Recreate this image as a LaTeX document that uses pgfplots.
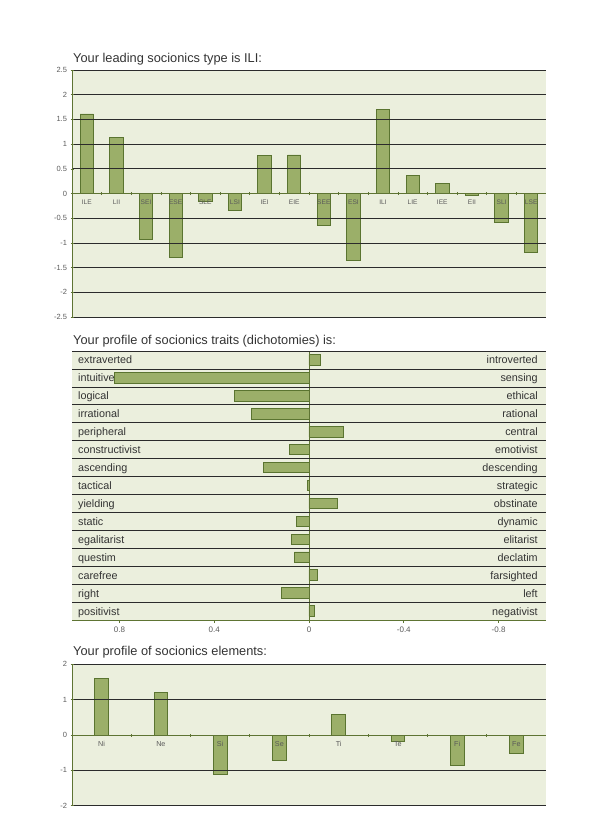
\documentclass[border=0pt]{standalone}
\usepackage{fontspec}
\setmainfont{Liberation Sans}
\usepackage{pgfplots}
\pgfplotsset{compat=1.18}
\usepackage{pgfplotstable}

\definecolor{bgc}{HTML}{EBEFDD}
\definecolor{barc}{HTML}{9BAF69}
\definecolor{bard}{HTML}{5A7430}
\definecolor{axc}{HTML}{5E7433}
\definecolor{gridc}{HTML}{2B2B2B}
\definecolor{framec}{HTML}{7A7A7A}
\definecolor{txt}{HTML}{333333}
\definecolor{tickc}{HTML}{5A5A5A}

% socionics types
\pgfplotstableread{
x val
0 1.61
1 1.14
2 -0.93
3 -1.30
4 -0.16
5 -0.34
6 0.77
7 0.78
8 -0.64
9 -1.35
10 1.71
11 0.37
12 0.20
13 -0.03
14 -0.58
15 -1.20
}\types

% dichotomies (positive = left trait)
\pgfplotstableread{
y val
14 -0.05
13 0.82
12 0.315
11 0.244
10 -0.144
9 0.082
8 0.194
7 0.008
6 -0.12
5 0.051
4 0.072
3 0.062
2 -0.035
1 0.117
0 -0.021
}\traits

% elements
\pgfplotstableread{
x val
0 1.59
1 1.21
2 -1.11
3 -0.71
4 0.58
5 -0.17
6 -0.87
7 -0.52
}\elements

\tikzset{
  rowlab/.style={font=\fontsize{10.8}{12}\selectfont, text=txt, inner sep=0pt,
    text height=8pt, text depth=0pt},
}

\pgfplotsset{
  common/.style={
    scale only axis,
    anchor=north west,
    axis background/.style={fill=bgc},
    axis on top,
    /pgf/number format/assume math mode=true,
    grid style={gridc, line width=0.7pt},
    tick align=outside,
    major tick length=3pt,
    tick style={axc, line width=0.6pt},
  },
  cats/.style={
    common,
    axis x line=middle, axis y line=left,
    axis line style={-, axc, line width=0.8pt},
    x axis line style={-}, y axis line style={-},
    hide obscured x ticks=false, hide obscured y ticks=false,
    ymajorgrids,
    xticklabels={},
    yticklabel style={font=\fontsize{7.5}{8}\selectfont, text=tickc},
  },
}

\begin{document}
\begin{tikzpicture}
\useasboundingbox (0,0) rectangle (594pt,-839pt);

\node[anchor=base west, font=\fontsize{12.8}{14}\selectfont, text=txt, inner sep=0pt]
  at (73pt,-62.5pt) {Your leading socionics type is ILI:};
\node[anchor=base west, font=\fontsize{12.8}{14}\selectfont, text=txt, inner sep=0pt]
  at (73pt,-344pt) {Your profile of socionics traits (dichotomies) is:};
\node[anchor=base west, font=\fontsize{12.8}{14}\selectfont, text=txt, inner sep=0pt]
  at (73pt,-655pt) {Your profile of socionics elements:};

% ---- panel 1: types
\begin{axis}[cats,
  at={(72pt,-70pt)}, width=474pt, height=247pt,
  xmin=-0.5, xmax=15.5, ymin=-2.5, ymax=2.5,
  ytick={-2.5,-2,...,2.5},
  xtick={0.5,1.5,...,14.5},
  extra x ticks={0,...,15},
  extra x tick labels={ILE,LII,SEI,ESE,SLE,LSI,IEI,EIE,SEE,ESI,ILI,LIE,IEE,EII,SLI,LSE},
  extra x tick style={major tick length=0pt,
    tick label style={font=\fontsize{6.6}{7}\selectfont, text=tickc, yshift=-3pt}},
]
\addplot[ybar, bar width=13.3pt, fill=barc, draw=bard, line width=0.9pt]
  table[x=x, y=val] {\types};
\draw[framec, line width=0.8pt] (axis cs:-0.5,2.5) -- (axis cs:15.5,2.5);
\draw[framec, line width=0.8pt] (axis cs:-0.5,-2.5) -- (axis cs:15.5,-2.5);
\end{axis}

% ---- panel 2: dichotomies
\begin{axis}[common,
  at={(72pt,-351pt)}, width=474pt, height=269pt,
  xmin=-1, xmax=1, x dir=reverse, ymin=-0.5, ymax=14.5,
  axis x line*=bottom, axis y line*=left,
  x axis line style={-, axc, line width=0.8pt},
  y axis line style={draw=none},
  ytick={0.5,1.5,...,14.5}, yticklabels={}, ytick style={draw=none},
  ymajorgrids,
  xtick={-0.8,-0.4,0,0.4,0.8},
  xticklabel style={font=\fontsize{8}{9}\selectfont, text=tickc},
]
\addplot[xbar, bar width=10.5pt, fill=barc, draw=bard, line width=0.9pt]
  table[x=val, y=y] {\traits};
\draw[framec, line width=0.8pt] (axis cs:1,14.5) -- (axis cs:-1,14.5);
\draw[axc, line width=0.8pt] (axis cs:0,-0.5) -- (axis cs:0,14.5);
\foreach \l [count=\i from 0] in {extraverted,intuitive,logical,irrational,peripheral,constructivist,ascending,tactical,yielding,static,egalitarist,questim,carefree,right,positivist}{
  \pgfmathtruncatemacro\yy{14-\i}
  \edef\tmp{\noexpand\node[rowlab, anchor=west] at (axis cs:0.975,\yy) {\l};}\tmp
}
\foreach \r [count=\i from 0] in {introverted,sensing,ethical,rational,central,emotivist,descending,strategic,obstinate,dynamic,elitarist,declatim,farsighted,left,negativist}{
  \pgfmathtruncatemacro\yy{14-\i}
  \edef\tmp{\noexpand\node[rowlab, anchor=east] at (axis cs:-0.966,\yy) {\r};}\tmp
}
\end{axis}

% ---- panel 3: elements
\begin{axis}[cats,
  at={(72pt,-664.3pt)}, width=474pt, height=141.4pt,
  xmin=-0.5, xmax=7.5, ymin=-2, ymax=2,
  ytick={-2,-1,0,1,2},
  xtick={0.5,1.5,...,6.5},
  extra x ticks={0,...,7},
  extra x tick labels={Ni,Ne,Si,Se,Ti,Te,Fi,Fe},
  extra x tick style={major tick length=0pt,
    tick label style={font=\fontsize{7.2}{8}\selectfont, text=tickc, yshift=-3pt}},
]
\addplot[ybar, bar width=13.7pt, fill=barc, draw=bard, line width=0.9pt]
  table[x=x, y=val] {\elements};
\draw[gridc, line width=0.8pt] (axis cs:-0.5,2) -- (axis cs:7.5,2);
\draw[framec, line width=0.8pt] (axis cs:-0.5,-2) -- (axis cs:7.5,-2);
\end{axis}
\end{tikzpicture}
\end{document}
